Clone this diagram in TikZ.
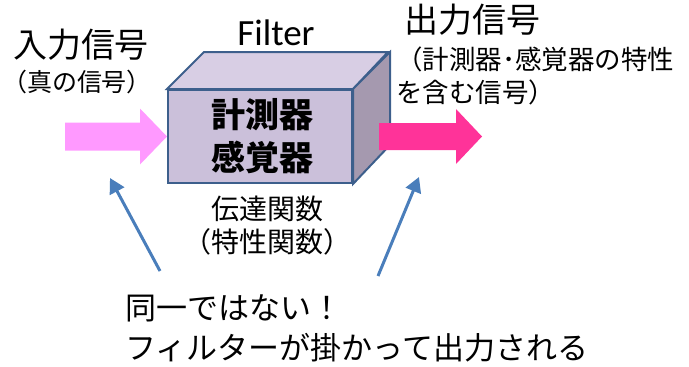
\documentclass[tikz,border=0pt]{standalone}
\usepackage{fontspec}
\setmainfont{Noto Sans CJK JP}
\newfontfamily\latfont{Carlito}
\usetikzlibrary{arrows.meta}
\definecolor{frontc}{HTML}{CBC0DA}
\definecolor{topc}{HTML}{D8CEE4}
\definecolor{sidec}{HTML}{A599AF}
\definecolor{edgec}{HTML}{3D5F8C}
\definecolor{pinkin}{HTML}{FF99FF}
\definecolor{pinkout}{HTML}{FF3399}
\definecolor{bluec}{HTML}{4A7EBB}
\tikzset{
  face/.style={draw=edgec, line width=2pt, line join=miter},
  lbl/.style={inner sep=0pt, align=center, text=black},
  pointer/.style={draw=bluec, line width=3pt, -{Triangle[length=15pt,width=16pt]}},
}
\begin{document}
\begin{tikzpicture}[x=1pt,y=-1pt]
\useasboundingbox (0,0) rectangle (689,367);
% front face
\node[face, fill=frontc, minimum width=184pt, minimum height=93pt, inner sep=0pt] (box) at (260,136.5) {};
\path[face, fill=topc] (box.north west) -- ++(37,-37) -- ++(184,0) -- (box.north east) -- cycle;
\path[face, fill=sidec] (box.north east) -- ++(37,-37) -- ++(0,93) -- (box.south east) -- cycle;
\node[lbl, font=\bfseries\fontsize{34}{43}\selectfont] (boxtext) at ([xshift=2pt]box.center) {計測器\\感覚器};
% input arrow
\coordinate (inT) at (box.west);
\fill[pinkin] (inT) -- ++(-27,-28) -- ++(0,14) -- ++(-75,0) -- ++(0,28) -- ++(75,0) -- ++(0,14) -- cycle;
% output arrow
\coordinate (outS) at ([xshift=26pt]box.east);
\fill[pinkout] (outS) ++(0,-13.5) -- ++(77,0) -- ++(0,-14) -- ++(26,27.5) -- ++(-26,27.5) -- ++(0,-14) -- ++(-77,0) -- cycle;
% texts
\node[lbl, font=\latfont\fontsize{37}{40}\selectfont] (filter) at (276,33) {Filter};
\node[lbl, font=\fontsize{34}{38}\selectfont] (intitle) at (81,45) {入力信号};
\node[lbl, font=\fontsize{25}{28}\selectfont] (insub) at (77,82) {（真の信号）};
\node[lbl, font=\fontsize{34}{38}\selectfont, anchor=west] (outtitle) at (404,20) {出力信号};
\node[lbl, font=\fontsize{26.5}{33}\selectfont, anchor=north west, align=left] (outsub) at (396,47) {（計測器･感覚器の特性\\を含む信号）};
\node[lbl, font=\fontsize{28}{33}\selectfont] (tf) at (267,226) {伝達関数\\（特性関数）};
\node[lbl, font=\fontsize{31}{40}\selectfont, anchor=west, align=left] (note) at (125,328) {同一ではない！\\フィルターが掛かって出力される};
% pointers
\coordinate (p1s) at (160,271);
\coordinate (p1e) at (110,178);
\coordinate (p2s) at (378,276);
\coordinate (p2e) at (419,177);
\draw[pointer] (p1s) -- (p1e);
\draw[pointer] (p2s) -- (p2e);
\end{tikzpicture}
\end{document}
